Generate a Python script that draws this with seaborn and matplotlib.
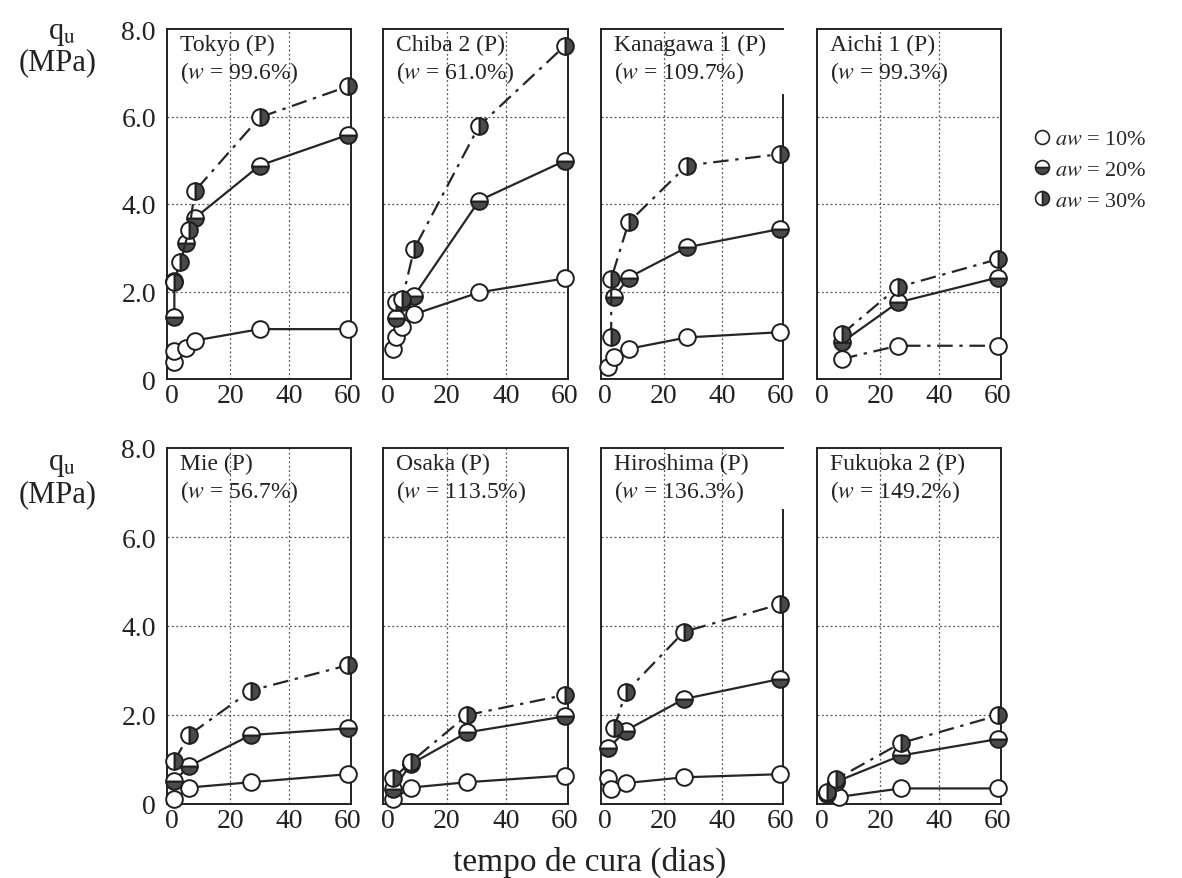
import matplotlib
matplotlib.use("Agg")
import matplotlib.pyplot as plt
import seaborn as sns
from matplotlib.lines import Line2D

# ---------------- data ----------------
sites = ["Tokyo (P)", "Chiba 2 (P)", "Kanagawa 1 (P)", "Aichi 1 (P)",
         "Mie (P)", "Osaka (P)", "Hiroshima (P)", "Fukuoka 2 (P)"]
water_contents = ["99.6", "61.0", "109.7", "99.3", "56.7", "113.5", "136.3", "149.2"]
aw_levels = ["10", "20", "30"]

# each: aw level -> (curing days, qu in MPa)
tokyo = {"10": ([1, 1, 5, 8, 30, 60], [0.40, 0.65, 0.70, 0.88, 1.14, 1.14]),
         "20": ([1, 1, 5, 8, 30, 60], [1.42, 2.25, 3.10, 3.68, 4.88, 5.58]),
         "30": ([1, 3, 6, 8, 30, 60], [2.22, 2.68, 3.40, 4.30, 5.98, 6.69])}
chiba2 = {"10": ([2, 3, 5, 9, 31, 60], [0.68, 0.95, 1.18, 1.48, 1.98, 2.30]),
          "20": ([3, 5, 9, 31, 60], [1.40, 1.75, 1.90, 4.08, 4.99]),
          "30": ([3, 5, 9, 31, 60], [1.75, 1.82, 2.97, 5.79, 7.62])}
kanagawa1 = {"10": ([1, 3, 8, 28, 60], [0.27, 0.50, 0.69, 0.95, 1.07]),
             "20": ([3, 8, 28, 60], [1.87, 2.32, 3.01, 3.43]),
             "30": ([2, 2, 8, 28, 60], [0.95, 2.29, 3.58, 4.88, 5.14])}
aichi1 = {"10": ([7, 26, 60], [0.46, 0.76, 0.76]),
          "20": ([7, 26, 60], [0.84, 1.75, 2.32]),
          "30": ([7, 26, 60], [1.03, 2.10, 2.74])}
mie = {"10": ([1, 6, 27, 60], [0.11, 0.37, 0.49, 0.67]),
       "20": ([1, 6, 27, 60], [0.52, 0.85, 1.55, 1.70]),
       "30": ([1, 6, 27, 60], [0.97, 1.55, 2.55, 3.12])}
osaka = {"10": ([2, 8, 27, 60], [0.11, 0.37, 0.49, 0.64]),
         "20": ([2, 8, 27, 60], [0.34, 0.90, 1.61, 1.97]),
         "30": ([2, 8, 27, 60], [0.58, 0.95, 2.00, 2.45])}
hiroshima = {"10": ([1, 2, 7, 27, 60], [0.58, 0.34, 0.47, 0.60, 0.67]),
             "20": ([1, 7, 27, 60], [1.25, 1.65, 2.36, 2.81]),
             "30": ([3, 7, 27, 60], [1.70, 2.51, 3.87, 4.49])}
fukuoka2 = {"10": ([2, 6, 27, 60], [0.24, 0.16, 0.35, 0.35]),
            "20": ([2, 5, 27, 60], [0.22, 0.50, 1.09, 1.46]),
            "30": ([2, 5, 27, 60], [0.28, 0.56, 1.37, 1.99])}
site_data = [tokyo, chiba2, kanagawa1, aichi1, mie, osaka, hiroshima, fukuoka2]

x_ticks = [0, 20, 40, 60]
y_ticks = [0, 2, 4, 6, 8]
y_tick_labels = ["0", "2.0", "4.0", "6.0", "8.0"]

# ---------------- styling ----------------
sns.set_style("white")
plt.rcParams["font.family"] = ["Liberation Serif", "DejaVu Serif"]
plt.rcParams["mathtext.fontset"] = "stix"

INK = "#262626"
FILL = "#4a4a4a"
DASHDOT = (0, (7, 3, 1.5, 3))
marker_style = {
    "10": dict(fillstyle="full", markerfacecolor="white", linestyle="-"),
    "20": dict(fillstyle="bottom", markerfacecolor=FILL, markerfacecoloralt="white", linestyle="-"),
    "30": dict(fillstyle="right", markerfacecolor=FILL, markerfacecoloralt="white", linestyle=DASHDOT),
}
line_override = {3: {"10": DASHDOT}}  # Aichi 1: 10% drawn dash-dot

W, H = 1182, 879
fig = plt.figure(figsize=(W / 100, H / 100), dpi=100)
cols = [(167, 351), (383, 568), (601, 783), (817, 1001)]
rows = [(30, 380), (449, 805)]

for i, (name, wc, data) in enumerate(zip(sites, water_contents, site_data)):
    r, c = divmod(i, 4)
    x0, x1 = cols[c]
    yt, yb = rows[r]
    ax = fig.add_axes([x0 / W, 1 - yb / H, (x1 - x0) / W, (yb - yt) / H])
    ax.set_xlim(-1.5, 61)
    ax.set_ylim(0, 8)

    for v in [20, 40]:
        ax.axvline(v, color="#555555", lw=0.9, ls=(0, (1.5, 2)), zorder=1)
    for v in [2, 4, 6]:
        ax.axhline(v, color="#555555", lw=0.9, ls=(0, (1.5, 2)), zorder=1)

    for lvl in aw_levels:
        xs, ys = data[lvl]
        st = dict(marker_style[lvl])
        if i in line_override and lvl in line_override[i]:
            st["linestyle"] = line_override[i][lvl]
        sns.lineplot(x=xs, y=ys, ax=ax, estimator=None, sort=False,
                     color=INK, lw=1.6, marker="o", markersize=12,
                     markeredgecolor="#1e1e1e", markeredgewidth=1.4,
                     zorder=3, clip_on=False, **st)

    ax.set_xticks(x_ticks)
    ax.set_xticklabels([str(t) for t in x_ticks])
    ax.set_yticks(y_ticks)
    if c == 0:
        ax.set_yticklabels(y_tick_labels)
    else:
        ax.set_yticklabels([])
    ax.tick_params(axis="both", length=0, labelsize=20, colors="#222222")
    ax.tick_params(axis="y", pad=8)
    ax.tick_params(axis="x", pad=3)
    ax.set_xlabel("")
    ax.set_ylabel("")
    for sp in ax.spines.values():
        sp.set_color("#222222")
        sp.set_linewidth(1.4)
        sp.set_visible(True)

    ax.text(0.07, 0.985, f"{name}\n($w$ = {wc}%)", transform=ax.transAxes,
            ha="left", va="top", fontsize=17, linespacing=1.2, color="#222222")

# incomplete right frame lines as in the reference
fig.axes[2].spines["right"].set_bounds(0, 6.5)
fig.axes[6].spines["right"].set_bounds(0, 6.6)

# y-axis labels
for yq, ym in [(33, 63), (465, 495)]:
    fig.text(62 / W, 1 - yq / H, r"q$_{\mathrm{u}}$", ha="center", va="center", fontsize=22, color="#222222")
    fig.text(58 / W, 1 - ym / H, "(MPa)", ha="center", va="center", fontsize=22, color="#222222")

fig.text(590 / W, 1 - 862 / H, "tempo de cura (dias)", ha="center", va="center", fontsize=24, color="#222222")

# legend
handles = []
for lvl in aw_levels:
    st = dict(marker_style[lvl])
    st.pop("linestyle")
    handles.append(Line2D([], [], ls="none", marker="o", markersize=10,
                          markeredgecolor="#222222", markeredgewidth=1.2, **st))
labels = [rf"$aw$ = {lvl}%" for lvl in aw_levels]
fig.legend(handles, labels, loc="upper left", bbox_to_anchor=(1022 / W, 1 - 121 / H),
           frameon=False, fontsize=16, handletextpad=0.1, labelspacing=0.45,
           handlelength=1.0, borderaxespad=0)

fig.savefig("out.png", dpi=100)
